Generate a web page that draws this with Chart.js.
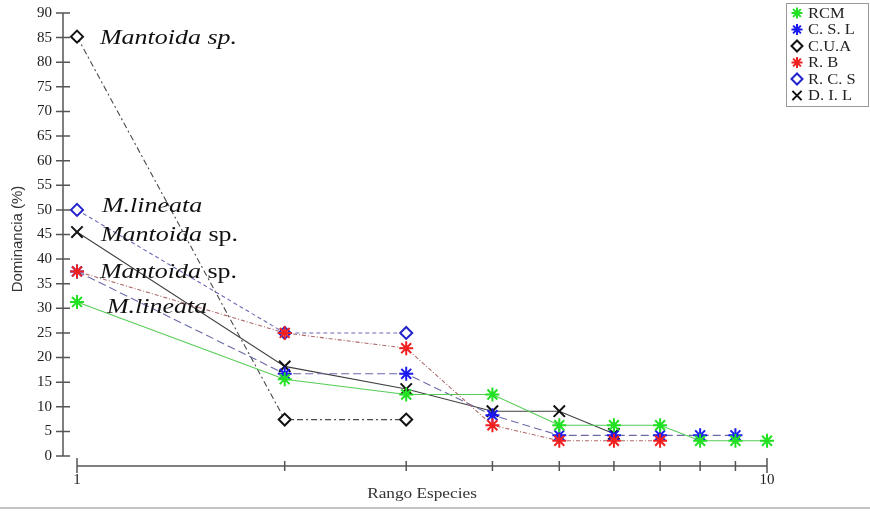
<!DOCTYPE html>
<html>
<head>
<meta charset="utf-8">
<script src="https://cdn.jsdelivr.net/npm/chart.js@4/dist/chart.umd.min.js"></script>
<style>
  html, body { margin: 0; padding: 0; background: #fff; }
  #wrap { width: 870px; height: 511px; position: relative; }
</style>
</head>
<body>
<div id="wrap"><canvas id="chart"></canvas></div>
<script>
// Rank on the x axis (log scale)
const ranks = [1, 2, 3, 4, 5, 6, 7, 8, 9, 10]

// Dominance (%) per site, by rank
const rcm = [31.3, 15.6, 12.5, 12.5, 6.25, 6.25, 6.25, 3.1, 3.1, 3.1]
const csl = [37.5, 16.7, 16.7, 8.3, 4.2, 4.2, 4.2, 4.2, 4.2, null]
const cua = [85.2, 7.4, 7.4, null, null, null, null, null, null, null]
const rb = [37.5, 25, 21.9, 6.25, 3.1, 3.1, 3.1, null, null, null]
const rcs = [50, 25, 25, null, null, null, null, null, null, null]
const dil = [45.5, 18.2, 13.6, 9.1, 9.1, 4.5, null, null, null, null]

const seriesNames = ['RCM', 'C. S. L', 'C.U.A', 'R. B', 'R. C. S', 'D. I. L']
const xLabeled = [1, 10]

// Species names written next to the rank-1 points
const speciesText = ['Mantoida sp.', 'M.lineata', 'Mantoida', 'Mantoida', 'M.lineata']
const speciesTail = ['', '', ' sp.', ' sp.', '']
const speciesValue = [85.2, 50, 45.5, 37.5, 31.3]
// small nudges (px) so the text sits like in the original
const speciesNudge = [[23, 2], [25, -4], [24, 3], [23, 1], [30, 5]]

const SERIF = '"Liberation Serif", "DejaVu Serif", serif'
const NARROW = '"Liberation Sans Narrow", "Liberation Sans", sans-serif'

function toPoints(values) {
  return ranks.map((r, i) => ({x: r, y: values[i]}))
}

function stretchedText(ctx, text, x, y, font, sx, align) {
  ctx.save()
  ctx.font = font
  ctx.translate(x, y)
  ctx.scale(sx, 1)
  ctx.textAlign = align || 'left'
  ctx.fillText(text, 0, 0)
  const w = ctx.measureText(text).width * sx
  ctx.restore()
  return w
}

const decorPlugin = {
  id: 'decor',
  beforeDatasetsDraw(chart) {
    const ctx = chart.ctx
    const xs = chart.scales.x
    const ys = chart.scales.y
    const area = chart.chartArea
    const axisX = area.left - 14
    const axisY = area.bottom + 10

    ctx.save()
    ctx.strokeStyle = '#555'
    ctx.lineWidth = 1.5

    // y axis line and ticks
    ctx.beginPath()
    ctx.moveTo(axisX, ys.getPixelForValue(90))
    ctx.lineTo(axisX, ys.getPixelForValue(0))
    ys.ticks.forEach(t => {
      const py = ys.getPixelForValue(t.value)
      ctx.moveTo(axisX - 7, py)
      ctx.lineTo(axisX + 7, py)
    })
    ctx.stroke()

    // x axis line and ticks
    ctx.beginPath()
    ctx.moveTo(xs.getPixelForValue(1), axisY)
    ctx.lineTo(xs.getPixelForValue(10), axisY)
    xs.ticks.forEach(t => {
      const px = xs.getPixelForValue(t.value)
      const big = xLabeled.includes(t.value)
      ctx.moveTo(px, axisY - (big ? 8 : 5))
      ctx.lineTo(px, axisY + (big ? 7 : 5))
    })
    ctx.stroke()
    ctx.restore()
  },
  afterDraw(chart) {
    const ctx = chart.ctx
    const xs = chart.scales.x
    const ys = chart.scales.y
    ctx.save()
    ctx.fillStyle = '#111'
    ctx.textBaseline = 'middle'

    // species annotations
    speciesText.forEach((txt, i) => {
      const x = xs.getPixelForValue(1) + speciesNudge[i][0]
      const y = ys.getPixelForValue(speciesValue[i]) + speciesNudge[i][1]
      const w = stretchedText(ctx, txt, x, y, 'italic 22px ' + SERIF, 1.18)
      if (speciesTail[i]) {
        stretchedText(ctx, speciesTail[i], x + w, y, '22px ' + SERIF, 1.18)
      }
    })

    // axis titles
    ctx.fillStyle = '#333'
    stretchedText(ctx, 'Rango Especies', (chart.chartArea.left + chart.chartArea.right) / 2, 494,
      '15px ' + SERIF, 1.15, 'center')
    ctx.save()
    ctx.translate(18, 239)
    ctx.rotate(-Math.PI / 2)
    ctx.font = '15px ' + NARROW
    ctx.textAlign = 'center'
    ctx.fillText('Dominancia (%)', 0, 0)
    ctx.restore()

    // legend box
    const lx = 786, ly = 3, lw = 82, lh = 103
    ctx.strokeStyle = '#999'
    ctx.lineWidth = 1
    ctx.strokeRect(lx + 0.5, ly + 0.5, lw, lh)
    chart.data.datasets.forEach((ds, i) => {
      const cy = ly + 10 + i * 16.5
      ctx.save()
      ctx.strokeStyle = ds.pointBorderColor
      ctx.fillStyle = '#fff'
      ctx.lineWidth = 2
      Chart.helpers.drawPoint(ctx, {
        pointStyle: ds.pointStyle,
        radius: ds.pointStyle === 'crossRot' ? 6.5 : 5.5,
        borderWidth: 2,
        rotation: 0
      }, lx + 11, cy)
      ctx.restore()
      ctx.fillStyle = '#222'
      stretchedText(ctx, ds.label, lx + 22, cy + 1, '15px ' + SERIF, 1.1)
    })

    // bottom rule of the figure
    ctx.fillStyle = '#c4c4c4'
    ctx.fillRect(0, 507, 870, 2)
    ctx.restore()
  }
}

function series(label, values, lineColor, dash, pointColor, pointStyle, radius, order) {
  return {
    label: label,
    data: toPoints(values),
    order: order,
    borderColor: lineColor,
    borderWidth: 1.1,
    borderDash: dash,
    pointStyle: pointStyle,
    pointRadius: radius,
    pointHoverRadius: radius,
    pointBorderColor: pointColor,
    pointBackgroundColor: '#fff',
    pointBorderWidth: 2,
    fill: false,
    spanGaps: false,
    tension: 0,
    clip: false
  }
}

// R. B drawn last so its red stars sit on top, as in the original
const datasets = [
  series(seriesNames[0], rcm, '#55cc55', [], '#22e022', 'star', 7, 1),
  series(seriesNames[1], csl, '#6a6aa8', [8, 4], '#1a1af0', 'star', 7, 1),
  series(seriesNames[2], cua, '#4a4a4a', [6, 3, 2, 3], '#111', 'rectRot', 6, 1),
  series(seriesNames[3], rb, '#b06a6a', [4, 2, 1, 2], '#f02020', 'star', 7, 0),
  series(seriesNames[4], rcs, '#6a6ab8', [4, 3], '#2222cc', 'rectRot', 6, 1),
  series(seriesNames[5], dil, '#404040', [], '#111', 'crossRot', 8, 1)
]

const config = {
  type: 'line',
  data: {datasets: datasets},
  options: {
    responsive: true,
    maintainAspectRatio: false,
    animation: false,
    events: [],
    layout: {
      padding: {left: 0, top: 13, right: 103, bottom: 0}
    },
    plugins: {
      legend: {display: false},
      tooltip: {enabled: false},
      title: {display: false}
    },
    scales: {
      x: {
        type: 'logarithmic',
        min: 1,
        max: 10,
        afterBuildTicks: (scale) => {
          scale.ticks = ranks.map(v => ({value: v}))
        },
        afterFit: (scale) => {
          scale.height = 55
        },
        ticks: {
          autoSkip: false,
          maxRotation: 0,
          padding: 15,
          color: '#222',
          font: {family: SERIF, size: 15},
          callback: (value) => xLabeled.includes(value) ? String(value) : ''
        },
        grid: {display: false, drawTicks: false},
        border: {display: false}
      },
      y: {
        min: 0,
        max: 90,
        afterFit: (scale) => {
          scale.width = 77
          // the label padding is horizontal only here
          scale.paddingTop = 0
          scale.paddingBottom = 0
        },
        ticks: {
          stepSize: 5,
          padding: 25,
          color: '#222',
          font: {family: SERIF, size: 15}
        },
        grid: {display: false, drawTicks: false},
        border: {display: false}
      }
    }
  },
  plugins: [decorPlugin]
}

new Chart(document.getElementById('chart'), config)
</script>
</body>
</html>
